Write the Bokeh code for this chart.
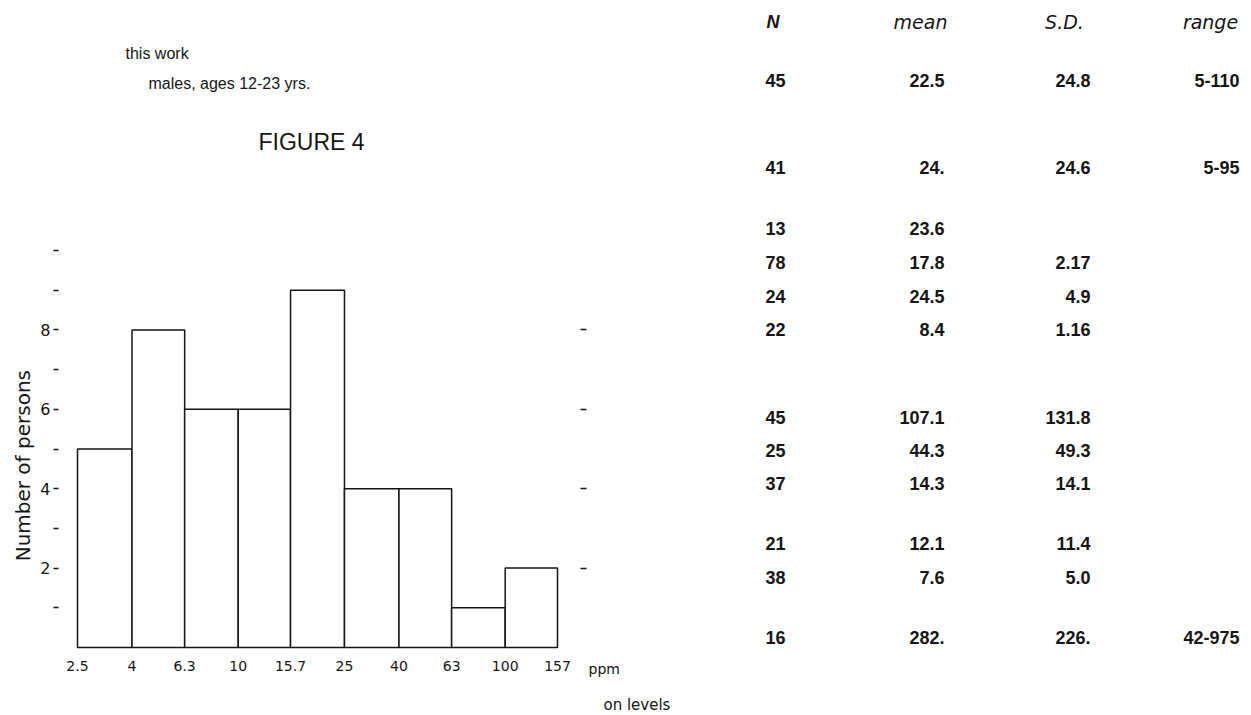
import math
from bokeh.plotting import figure
from bokeh.layouts import row, column
from bokeh.models import Label, LinearAxis, FixedTicker, CustomJSTickFormatter, Range1d
from bokeh.embed import file_html
from bokeh.resources import INLINE

# ---------------- data ----------------
bin_edges = [2.5, 4, 6.3, 10, 15.7, 25, 40, 63, 100, 157]
edge_labels = ["2.5", "4", "6.3", "10", "15.7", "25", "40", "63", "100", "157"]
persons = [5, 8, 6, 6, 9, 4, 4, 1, 2]
y_major = [2, 4, 6, 8]
y_minor = [1, 3, 5, 7, 9, 10]

col_heads = ["N", "mean", "S.D.", "range"]
tab_n = ["45", "41", "13", "78", "24", "22", "45", "25", "37", "21", "38", "16"]
tab_mean = ["22.5", "24.", "23.6", "17.8", "24.5", "8.4", "107.1", "44.3", "14.3", "12.1", "7.6", "282."]
tab_sd = ["24.8", "24.6", "", "2.17", "4.9", "1.16", "131.8", "49.3", "14.1", "11.4", "5.0", "226."]
tab_range = ["5-110", "5-95", "", "", "", "", "", "", "", "", "", "42-975"]

ink = "#151515"

# ---------------- page geometry (pixels) ----------------
PW, PH = 1245, 712          # whole page
SPLIT_X = 587               # left block | right (table) block
TOP_H = 238                 # header block height (left)
YL_W = 36                   # width of y-label strip
FL, FR, FB = 58, 580, 649   # histogram frame left / right / bottom (page px)
X0, X1 = 77, 557            # page px of first / last bin edge


def text_panel(x0, x1, y0, y1):
    f = figure(width=x1 - x0, height=y1 - y0, x_range=Range1d(x0, x1),
               y_range=Range1d(y1, y0), output_backend="svg",
               toolbar_location=None, x_axis_location=None,
               y_axis_location=None, min_border=0, title=None)
    f.outline_line_color = None
    f.grid.visible = False
    f.background_fill_color = "white"
    f.border_fill_color = "white"
    return f


def lab(f, X, Y, text, size, align="left", baseline="middle", style="normal",
        font="Liberation Sans", angle=0.0):
    f.add_layout(Label(x=X, y=Y, text=text, text_font=font,
                       text_font_size=f"{size}px", text_align=align,
                       text_baseline=baseline, text_font_style=style,
                       text_color=ink, angle=angle))


# ---- header block ----
top = text_panel(0, SPLIT_X, 0, TOP_H)
lab(top, 125, 53, "this work", 16)
lab(top, 148, 83, "males, ages 12-23 yrs.", 16)
lab(top, 258, 141, "FIGURE 4", 23)

# ---- y label strip ----
ylab = text_panel(0, YL_W, TOP_H, PH)
lab(ylab, 22, 500, "Number of persons", 20, align="center",
    font="DejaVu Sans", angle=math.pi / 2)

# ---- histogram ----
HW, HH = SPLIT_X - YL_W, PH - TOP_H
ppd = (X1 - X0) / math.log10(bin_edges[-1] / bin_edges[0])
x_start = bin_edges[0] * 10 ** (-(X0 - FL) / ppd)
x_end = bin_edges[-1] * 10 ** ((FR - X1) / ppd)
px_per_unit = 39.7
y_start = -(FB - 647) / px_per_unit
y_end = y_start + (FB - TOP_H) / px_per_unit

h = figure(width=HW, height=HH, x_axis_type="log",
           x_range=Range1d(x_start, x_end), y_range=Range1d(y_start, y_end),
           output_backend="svg", toolbar_location=None, title=None,
           min_border_left=FL - YL_W, min_border_right=SPLIT_X - FR,
           min_border_top=0, min_border_bottom=PH - FB)
h.outline_line_color = None
h.grid.visible = False
h.background_fill_color = "white"
h.border_fill_color = "white"

h.quad(left=bin_edges[:-1], right=bin_edges[1:], bottom=0, top=persons,
       fill_color="white", line_color=ink, line_width=1.5)

xa = h.xaxis[0]
xa.ticker = FixedTicker(ticks=bin_edges, minor_ticks=[])
xa.formatter = CustomJSTickFormatter(args=dict(labels=edge_labels), code="return labels[index]")
xa.axis_line_color = None
xa.major_tick_out = 0
xa.major_tick_in = 0
xa.minor_tick_out = 0
xa.minor_tick_in = 0
xa.major_label_standoff = 11
xa.major_label_text_font = "DejaVu Sans"
xa.major_label_text_font_size = "14px"
xa.major_label_text_color = ink

ya = h.yaxis[0]
ya.ticker = FixedTicker(ticks=y_major, minor_ticks=y_minor)
ya.axis_line_color = None
ya.major_tick_out = 5
ya.major_tick_in = 0
ya.minor_tick_out = 5
ya.minor_tick_in = 0
ya.major_tick_line_color = ink
ya.minor_tick_line_color = ink
ya.major_tick_line_width = 1.5
ya.minor_tick_line_width = 1.5
ya.major_label_standoff = 3
ya.major_label_text_font = "DejaVu Sans"
ya.major_label_text_font_size = "16px"
ya.major_label_text_color = ink

# right side: tick marks only (drawn as minor ticks so no labels exist)
ra = LinearAxis(ticker=FixedTicker(ticks=[], minor_ticks=y_major))
ra.axis_line_color = None
ra.minor_tick_out = 6
ra.minor_tick_in = 0
ra.minor_tick_line_color = ink
ra.minor_tick_line_width = 1.5
h.add_layout(ra, "right")

# ---- right block: unit, axis title fragment, table ----
rt = text_panel(SPLIT_X, PW, 0, PH)
lab(rt, 588, 668, "ppm", 14, font="DejaVu Sans")
lab(rt, 603, 704, "on levels", 15, font="DejaVu Sans")

lab(rt, 766, 21, col_heads[0], 18, style="bold italic")
lab(rt, 920, 21, col_heads[1], 19, align="center", style="italic", font="DejaVu Sans")
lab(rt, 1064, 21, col_heads[2], 19, align="center", style="italic", font="DejaVu Sans")
lab(rt, 1210, 21, col_heads[3], 19, align="center", style="italic", font="DejaVu Sans")

row_y = [80, 167, 228, 262, 296, 329, 417, 450, 483, 543, 577, 637]
for yy, n, m, s, r in zip(row_y, tab_n, tab_mean, tab_sd, tab_range):
    lab(rt, 765, yy, n, 18, style="bold")
    lab(rt, 944, yy, m, 18, align="right", style="bold")
    if s:
        lab(rt, 1090, yy, s, 18, align="right", style="bold")
    if r:
        lab(rt, 1239, yy, r, 18, align="right", style="bold")

page = row(column(top, row(ylab, h)), rt)
open("out.html", "w").write(file_html(page, INLINE))
